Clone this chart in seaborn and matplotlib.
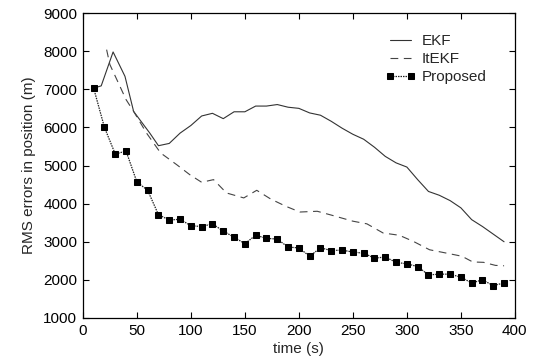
import numpy as np
import pandas as pd
import matplotlib
matplotlib.use("Agg")
import matplotlib.pyplot as plt
import seaborn as sns

# ----------------------------------------------------------
# data
# ----------------------------------------------------------
t_prop = list(range(10, 400, 10))
rms_prop = [7030, 6000, 5300, 5380, 4570, 4350, 3710, 3570, 3590, 3420,
            3400, 3470, 3280, 3120, 2950, 3170, 3090, 3070, 2860, 2840,
            2620, 2840, 2770, 2780, 2730, 2700, 2570, 2600, 2460, 2420,
            2350, 2130, 2150, 2150, 2070, 1920, 2000, 1850, 1920]

t_ekf = [10, 17, 28, 39, 47, 62, 70, 80, 90, 100, 110, 120, 130, 140, 150,
         160, 170, 180, 190, 200, 210, 220, 230, 240, 250, 260, 270, 280,
         290, 300, 310, 320, 330, 340, 350, 360, 370, 380, 390]
rms_ekf = [7030, 7090, 7980, 7340, 6420, 5850, 5520, 5580, 5850, 6050,
           6300, 6370, 6230, 6410, 6410, 6560, 6560, 6600, 6530, 6500,
           6380, 6320, 6160, 5980, 5820, 5690, 5480, 5240, 5070, 4960,
           4630, 4320, 4220, 4080, 3890, 3580, 3400, 3200, 3000]

t_itekf = [22, 25, 33, 40, 47, 59, 72, 87, 99, 110, 121, 133, 149, 161,
           174, 188, 201, 217, 230, 250, 263, 278, 293, 306, 321, 337,
           351, 361, 371, 382, 390]
rms_itekf = [8040, 7650, 7160, 6730, 6420, 5850, 5330, 5020, 4760, 4560,
             4630, 4280, 4150, 4350, 4120, 3930, 3780, 3800, 3700, 3540,
             3470, 3230, 3170, 3010, 2790, 2700, 2620, 2470, 2460, 2380,
             2370]

xticks = [0, 50, 100, 150, 200, 250, 300, 350, 400]
yticks = [1000, 2000, 3000, 4000, 5000, 6000, 7000, 8000, 9000]

sns.set_theme(style="ticks")
plt.rcParams["font.family"] = ["Liberation Sans", "DejaVu Sans"]

fig = plt.figure(figsize=(5.38, 3.63), dpi=100)
ax = fig.add_axes([0.154, 0.124, 0.803, 0.840])

sns.lineplot(x=t_ekf, y=rms_ekf, ax=ax, color="#333333", lw=0.8,
             label="EKF", estimator=None, sort=False)
sns.lineplot(x=t_itekf, y=rms_itekf, ax=ax, color="#444444", lw=0.8,
             label="ItEKF", estimator=None, sort=False)
ax.lines[-1].set_dashes([7, 5])
sns.lineplot(x=t_prop, y=rms_prop, ax=ax, color="#222222", lw=0.9,
             label="Proposed", estimator=None, sort=False,
             marker="s", markersize=4.5, markeredgecolor="black",
             markerfacecolor="black")
ax.lines[-1].set_dashes([1.2, 0.8])

ax.set_xlim(0, 400)
ax.set_ylim(1000, 9000)
ax.set_xticks(xticks)
ax.set_yticks(yticks)
ax.tick_params(direction="in", top=True, right=True, length=4,
               labelsize=11, colors="black", width=0.8, pad=4)
for s in ax.spines.values():
    s.set_color("black")
    s.set_linewidth(0.9)

ax.set_xlabel("time (s)", fontsize=11, labelpad=3)
ax.set_ylabel("RMS errors in position (m)", fontsize=11, labelpad=5)

leg = ax.legend(loc="upper right", bbox_to_anchor=(0.935, 0.93),
                frameon=False, fontsize=11, handlelength=2.0, numpoints=2,
                borderaxespad=0, borderpad=0, labelspacing=0.25,
                handletextpad=0.4)

plt.savefig("out.png", dpi=100)
